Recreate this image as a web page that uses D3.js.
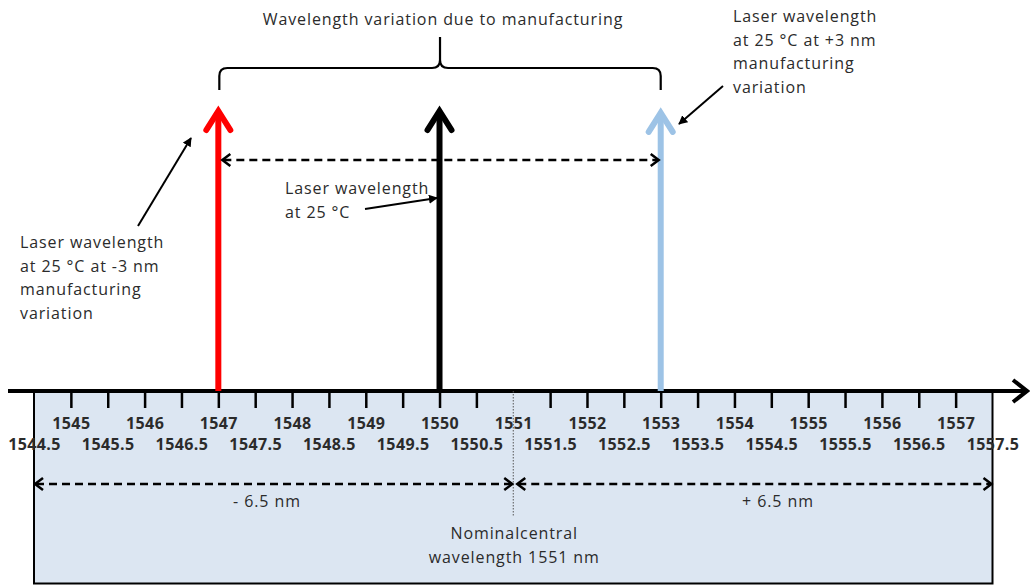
<!DOCTYPE html>
<html><head><meta charset="utf-8">
<script src="https://cdn.jsdelivr.net/npm/d3@7"></script>
<style>body{margin:0;background:#fff}svg{display:block}text{font-family:"Open Sans",sans-serif}</style>
</head><body><svg id="c" width="1030" height="585"></svg>
<script>
// ---- data ----
const majorTicks = [1545,1546,1547,1548,1549,1550,1551,1552,1553,1554,1555,1556,1557];
const halfTicks = [1544.5,1545.5,1546.5,1547.5,1548.5,1549.5,1550.5,1551.5,1552.5,1553.5,1554.5,1555.5,1556.5,1557.5];
const tickMarks = [1545,1545.5,1546,1546.5,1547,1547.5,1548,1548.5,1549,1549.5,1550,1550.5,1551.5,1552,1552.5,1553,1553.5,1554,1554.5,1555,1555.5,1556,1556.5,1557];
const lasers = ["-3 nm","nominal","+3 nm"];
const laserWavelengths = [1547, 1550, 1553];
const laserColors = ["#ff0000","#000000","#9dc3e6"];
const nominal = 1551;
const spanLeft = [1544.5, 1551];
const spanRight = [1551, 1557.5];
const spanLabels = ["- 6.5 nm","+ 6.5 nm"];
const title = "Wavelength variation due to manufacturing";

const svg = d3.select("#c");
const x = d3.scaleLinear().domain([1544.5, 1557.5]).range([34, 992.5]);
const y = d3.scaleLinear().domain([0, 1]).range([391, 111]);
const axisY = y(0);
const textColor = "#2b2b2b";
const LS = 0.9;

// defs
const defs = svg.append("defs");
defs.append("marker").attr("id","tri").attr("viewBox","0 0 10 10").attr("refX",9).attr("refY",5)
  .attr("markerWidth",4.5).attr("markerHeight",4.5).attr("orient","auto")
  .append("path").attr("d","M0,0 L10,5 L0,10 Z").attr("fill","#000");

// box
svg.append("rect").attr("x", x(1544.5)).attr("y", axisY).attr("width", x(1557.5)-x(1544.5)).attr("height", 583-axisY)
  .attr("fill","#dce6f2");
svg.append("path").attr("d",`M${x(1544.5)},${axisY} V583.5 H${x(1557.5)} V${axisY}`)
  .attr("fill","none").attr("stroke","#000").attr("stroke-width",2);

// axis with ticks
const axis = d3.axisBottom(x).tickValues(tickMarks).tickSize(17).tickFormat("");
const ag = svg.append("g").attr("transform",`translate(0,${axisY})`).call(axis);
ag.select(".domain").remove();
ag.selectAll(".tick line").attr("stroke","#000").attr("stroke-width",2.5);

// axis line + arrow
svg.append("line").attr("x1",8).attr("x2",1026).attr("y1",axisY).attr("y2",axisY)
  .attr("stroke","#000").attr("stroke-width",4);
svg.append("path").attr("d",`M1013,${axisY-11} L1027,${axisY} L1013,${axisY+11}`)
  .attr("fill","none").attr("stroke","#000").attr("stroke-width",4).attr("stroke-linejoin","miter");

// tick labels
function tickRow(data, yy) {
  svg.append("g").selectAll("text").data(data).join("text")
    .attr("x", d=>x(d)+0.5).attr("y", yy).attr("text-anchor","middle")
    .attr("font-weight","bold").attr("font-size",16).attr("letter-spacing",0.4)
    .attr("fill",textColor).text(d=>d);
}
tickRow(majorTicks, axisY+38);
tickRow(halfTicks, axisY+59);

// nominal dotted line
svg.append("line").attr("x1",x(nominal)).attr("x2",x(nominal)).attr("y1",axisY).attr("y2",517)
  .attr("stroke","#555").attr("stroke-width",1).attr("stroke-dasharray","1.5,1.5");

// span arrows in box
function dashedDouble(a, b, yy, hl) {
  const g = svg.append("g");
  g.append("line").attr("x1",a+2).attr("x2",b-2).attr("y1",yy).attr("y2",yy)
    .attr("stroke","#000").attr("stroke-width",2.5).attr("stroke-dasharray","8,5");
  g.append("path").attr("d",`M${a+hl},${yy-6} L${a+1},${yy} L${a+hl},${yy+6}`).attr("fill","none").attr("stroke","#000").attr("stroke-width",2.5);
  g.append("path").attr("d",`M${b-hl},${yy-6} L${b-1},${yy} L${b-hl},${yy+6}`).attr("fill","none").attr("stroke","#000").attr("stroke-width",2.5);
}
dashedDouble(x(spanLeft[0]), x(spanLeft[1]), 484, 9);
dashedDouble(x(spanRight[0])+3, x(spanRight[1]), 484, 9);

function txt(s, x0, y0, size, anchor) {
  return svg.append("text").attr("x",x0).attr("y",y0).attr("text-anchor",anchor||"middle")
    .attr("font-size",size).attr("letter-spacing",LS).attr("fill",textColor).text(s);
}
txt(spanLabels[0], 267, 507, 16);
txt(spanLabels[1], 778, 507, 16);
txt("Nominalcentral", x(nominal)+1, 539, 16);
txt("wavelength 1551 nm", x(nominal)+1, 563, 16);

// laser arrows
const tops = [1, 1, 0.993];
laserWavelengths.forEach((w,i)=>{
  const cx = x(w), ty = y(tops[i]);
  svg.append("line").attr("x1",cx).attr("x2",cx).attr("y1",axisY).attr("y2",ty+3)
    .attr("stroke",laserColors[i]).attr("stroke-width",6);
  svg.append("path").attr("d",`M${cx-12},${ty+19} L${cx},${ty} L${cx+12},${ty+19}`)
    .attr("fill","none").attr("stroke",laserColors[i]).attr("stroke-width",6).attr("stroke-linecap","round").attr("stroke-linejoin","miter");
});

// dashed double arrow between lasers
dashedDouble(x(laserWavelengths[0])+3, x(laserWavelengths[2])-1, 160, 9);

// brace
const bl = x(laserWavelengths[0])+1, br = x(laserWavelengths[2]), bc = (bl+br)/2;
svg.append("path").attr("d",
  `M${bl},90 V76 Q${bl},68 ${bl+8},68 H${bc-8} Q${bc},68 ${bc},60 V37 M${bc},60 Q${bc},68 ${bc+8},68 H${br-8} Q${br},68 ${br},76 V90`)
  .attr("fill","none").attr("stroke","#000").attr("stroke-width",2.2);
txt(title, 443, 25, 16);

// annotations
function label(lines, x0, y0, lh) {
  const t = svg.append("text").attr("font-size",16).attr("letter-spacing",LS).attr("fill",textColor);
  lines.forEach((l,i)=>t.append("tspan").attr("x",x0).attr("y",y0+i*lh).text(l));
}
label(["Laser wavelength","at 25 °C at +3 nm","manufacturing","variation"], 733, 22, 23.5);
label(["Laser wavelength","at 25 °C at -3 nm","manufacturing","variation"], 20, 248, 23.5);
label(["Laser wavelength","at 25 °C"], 285, 194, 23.5);

function pointer(x1,y1,x2,y2){
  svg.append("line").attr("x1",x1).attr("y1",y1).attr("x2",x2).attr("y2",y2)
    .attr("stroke","#000").attr("stroke-width",2).attr("marker-end","url(#tri)");
}
pointer(723, 86, 679, 124);
pointer(138, 226, 191, 138);
pointer(365, 209, 437, 198);
</script></body></html>
